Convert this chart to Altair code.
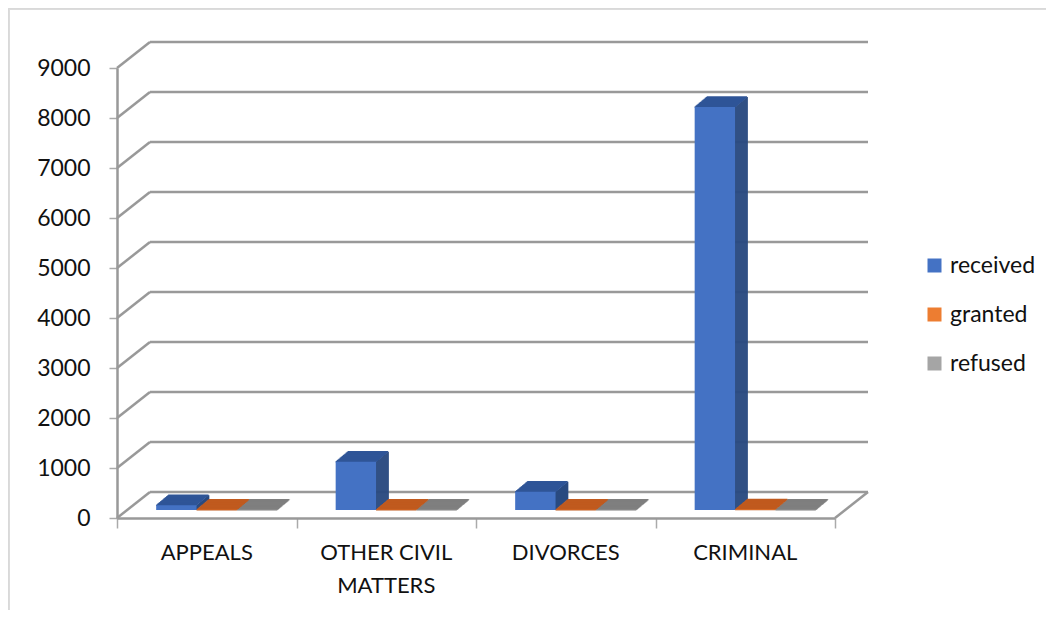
import altair as alt
import pandas as pd

# ---- data ----
categories = ["APPEALS", "OTHER CIVIL MATTERS", "DIVORCES", "CRIMINAL"]
category_labels = ["APPEALS", "OTHER CIVIL\nMATTERS", "DIVORCES", "CRIMINAL"]
series = ["received", "granted", "refused"]
received = [95, 965, 365, 8060]
granted = [5, 5, 5, 10]
refused = [5, 5, 5, 5]
y_ticks = [0, 1000, 2000, 3000, 4000, 5000, 6000, 7000, 8000, 9000]

# ---- styles ----
front_colors = ["#4472C4", "#ED7D31", "#A5A5A5"]
top_colors = ["#2F5597", "#C05A1E", "#7F7F7F"]
side_colors = ["#2A4A80", "#A94F17", "#707070"]
GRID = "#999999"
FONT = "Lato"
W, H = 718, 450
DX, DY = 33, -26      # depth of the 3-D box (pixels)
BX, BY = 10, -8       # depth at which the bars' front faces sit
EX, EY = 12, -10      # depth of each bar
N = 12                # slices used to draw the depth faces
GROUP_START, BAR_W = 0.1625, 0.225

values = {"received": received, "granted": granted, "refused": refused}
rows = []
for j, s in enumerate(series):
    for i, c in enumerate(categories):
        x0 = i + GROUP_START + j * BAR_W
        rows.append(dict(category=c, series=s, value=values[s][i], base=0,
                         x0=x0, x1=x0 + BAR_W,
                         top=top_colors[j], side=side_colors[j]))
bars = pd.DataFrame(rows)

grid = pd.DataFrame({"v": y_ticks, "xs": 0, "xe": len(categories)})
floor = pd.DataFrame({"v": [0], "xs": [len(categories)]})
labels = pd.DataFrame({"label": category_labels,
                       "xm": [i + 0.5 for i in range(len(categories))],
                       "y": 0})

xscale = alt.Scale(domain=[0, len(categories)], nice=False, zero=False)
yscale = alt.Scale(domain=[0, 9000], nice=False)
xaxis = alt.Axis(values=list(range(len(categories) + 1)), labels=False, title=None,
                 domainColor=GRID, domainWidth=2.5, tickColor="#AAAAAA",
                 tickWidth=1.5, tickSize=10, grid=False)
yaxis = alt.Axis(values=y_ticks, title=None, format="d", domainColor=GRID,
                 domainWidth=2.5, tickColor="#AAAAAA", tickWidth=1.5, tickSize=8,
                 labelPadding=19, labelFont=FONT, labelFontSize=23,
                 labelColor="#111111", grid=False)


def X(f):
    return alt.X(f, type="quantitative", scale=xscale, axis=xaxis)


def Y(f):
    return alt.Y(f, type="quantitative", scale=yscale, axis=yaxis)


layers = []

# back wall gridlines
layers.append(alt.Chart(grid).mark_rule(color=GRID, strokeWidth=2.5,
                                        xOffset=DX, x2Offset=DX, yOffset=DY)
              .encode(x=X("xs"), x2="xe", y=Y("v")))
# left wall diagonals
layers.append(alt.Chart(grid).mark_rule(color=GRID, strokeWidth=2.5,
                                        x2Offset=DX, y2Offset=DY)
              .encode(x=X("xs"), x2="xs", y=Y("v"), y2="v"))
# floor right edge
layers.append(alt.Chart(floor).mark_rule(color=GRID, strokeWidth=2.5,
                                         x2Offset=DX, y2Offset=DY)
              .encode(x=X("xs"), x2="xs", y=Y("v"), y2="v"))

# bar side faces
for k in range(N + 1):
    ox, oy = BX + EX * k / N, BY + EY * k / N
    layers.append(alt.Chart(bars).mark_rule(strokeWidth=1.6, xOffset=ox,
                                            yOffset=oy, y2Offset=oy)
                  .encode(x=X("x1"), y=Y("value"), y2="base",
                          color=alt.Color("side:N", scale=None)))
# bar top faces
for k in range(N + 1):
    ox, oy = BX + EX * k / N, BY + EY * k / N
    layers.append(alt.Chart(bars).mark_rule(strokeWidth=1.6, xOffset=ox,
                                            x2Offset=ox, yOffset=oy)
                  .encode(x=X("x0"), x2="x1", y=Y("value"),
                          color=alt.Color("top:N", scale=None)))
# bar front faces
layers.append(alt.Chart(bars).mark_bar(xOffset=BX, x2Offset=BX, yOffset=BY,
                                       y2Offset=BY)
              .encode(x=X("x0"), x2="x1", y=Y("value"), y2="base",
                      color=alt.Color("series:N",
                                      scale=alt.Scale(domain=series, range=front_colors),
                                      legend=alt.Legend(orient="none", legendX=806,
                                                        legendY=186, title=None,
                                                        symbolType="square",
                                                        symbolSize=196,
                                                        symbolStrokeWidth=0,
                                                        labelFont=FONT,
                                                        labelFontSize=23,
                                                        labelColor="#111111",
                                                        labelOffset=4,
                                                        rowPadding=25,
                                                        padding=0))))
# category labels
layers.append(alt.Chart(labels).mark_text(font=FONT, fontSize=22, color="#111111",
                                          baseline="alphabetic", align="center",
                                          dy=42, lineBreak="\n", lineHeight=33)
              .encode(x=X("xm"), y=Y("y"), text="label:N"))
# outer frame
layers.append(alt.Chart(grid).mark_rule(color="#D9D9D9", strokeWidth=1.5)
              .encode(x=alt.value(-108.5), y=alt.value(-59.5), y2=alt.value(560)))
layers.append(alt.Chart(grid).mark_rule(color="#D9D9D9", strokeWidth=1.5)
              .encode(x=alt.value(-108.5), x2=alt.value(940), y=alt.value(-59.5)))

chart = alt.layer(*layers).properties(
    width=W, height=H,
    padding={"left": 109, "top": 60, "right": 211, "bottom": 92},
    autosize=alt.AutoSizeParams(type="none"),
    background="white",
).configure_view(stroke=None)

chart.save("out.html", embed_options={"renderer": "svg", "actions": False})
